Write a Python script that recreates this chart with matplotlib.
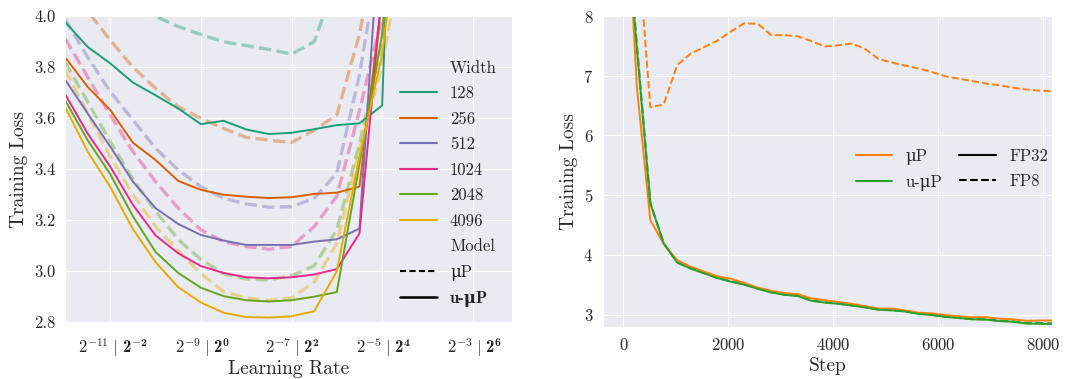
import matplotlib
matplotlib.use('Agg')
import matplotlib.pyplot as plt
import seaborn as sns
import numpy as np
from matplotlib.lines import Line2D
from matplotlib.ticker import NullLocator

sns.set_style('darkgrid')
plt.rcParams['font.family'] = ['cmr10', 'DejaVu Serif']
plt.rcParams['mathtext.fontset'] = 'cm'
plt.rcParams['axes.formatter.use_mathtext'] = True
# 'custom' math font family used only for the bold part of the LR tick labels
plt.rcParams['mathtext.rm'] = 'cmb10'
plt.rcParams['mathtext.it'] = 'cmb10'
plt.rcParams['mathtext.bf'] = 'cmb10'

# ---------------- Left panel data ----------------
log2_lr = [-12, -11.5, -11, -10.5, -10, -9.5, -9, -8.5, -8, -7.5, -7, -6.5, -6, -5.5, -5, -4.5]
widths = ['128', '256', '512', '1024', '2048', '4096']
width_colors = ['#1b9e77', '#d95f02', '#7570b3', '#e7298a', '#66a61e', '#e6ab02']

umup_128 = [3.978, 3.88, 3.815, 3.74, 3.69, 3.638, 3.577, 3.59, 3.556, 3.538, 3.543, 3.557, 3.573, 3.58, 3.65, 6.1]
umup_256 = [3.84, 3.723, 3.632, 3.504, 3.436, 3.354, 3.319, 3.30, 3.292, 3.287, 3.29, 3.303, 3.308, 3.332, 4.08, 5.5]
umup_512 = [3.752, 3.619, 3.488, 3.351, 3.247, 3.185, 3.142, 3.12, 3.103, 3.103, 3.103, 3.116, 3.125, 3.167, 4.5, 5.5]
umup_1024 = [3.695, 3.54, 3.41, 3.26, 3.14, 3.07, 3.02, 2.993, 2.976, 2.972, 2.976, 2.987, 3.008, 3.148, 4.1, 5.5]
umup_2048 = [3.671, 3.514, 3.38, 3.215, 3.075, 2.993, 2.935, 2.902, 2.886, 2.881, 2.886, 2.90, 2.918, 3.42, 3.93, 5.0]
umup_4096 = [3.645, 3.469, 3.33, 3.165, 3.035, 2.937, 2.877, 2.837, 2.82, 2.818, 2.823, 2.843, 3.0, 3.45, 3.85, 4.6]

mup_128 = [4.35, 4.22, 4.13, 4.05, 4.0, 3.96, 3.928, 3.90, 3.885, 3.87, 3.852, 3.90, 4.15, 4.6, 5.0, 5.5]
mup_256 = [4.2, 4.02, 3.906, 3.80, 3.717, 3.645, 3.60, 3.56, 3.525, 3.514, 3.505, 3.553, 3.613, 3.93, 4.4, 5.0]
mup_512 = [3.99, 3.84, 3.704, 3.593, 3.482, 3.397, 3.332, 3.286, 3.264, 3.251, 3.253, 3.286, 3.385, 3.77, 4.3, 5.0]
mup_1024 = [3.913, 3.762, 3.612, 3.469, 3.351, 3.247, 3.162, 3.116, 3.097, 3.086, 3.097, 3.175, 3.294, 3.63, 4.0, 4.6]
mup_2048 = [3.821, 3.664, 3.508, 3.36, 3.235, 3.124, 3.046, 2.99, 2.969, 2.966, 2.982, 3.021, 3.163, 3.5, 3.9, 4.4]
mup_4096 = [3.79, 3.62, 3.45, 3.30, 3.175, 3.08, 2.99, 2.92, 2.895, 2.885, 2.895, 2.957, 3.11, 3.476, 3.81, 4.3]

umup_series = [umup_128, umup_256, umup_512, umup_1024, umup_2048, umup_4096]
mup_series = [mup_128, mup_256, mup_512, mup_1024, mup_2048, mup_4096]

# tick labels: muP learning rate exponent | u-muP learning rate exponent (bold)
left_tick_exps = [-11, -9, -7, -5, -3]
left_tick_bold_exps = [-2, 0, 2, 4, 6]

# ---------------- Right panel data ----------------
steps = [0, 256, 512, 768, 1024, 1280, 1536, 1792, 2048, 2304, 2560, 2816, 3072, 3328, 3584, 3840,
         4096, 4352, 4608, 4864, 5120, 5376, 5632, 5888, 6144, 6400, 6656, 6912, 7168, 7424, 7680, 7936, 8192]
mup_fp32 = [11.0, 6.8, 4.58, 4.18, 3.91, 3.80, 3.72, 3.64, 3.60, 3.53, 3.45, 3.40, 3.36, 3.34, 3.27, 3.24,
            3.21, 3.18, 3.14, 3.10, 3.10, 3.07, 3.03, 3.02, 2.99, 2.97, 2.955, 2.955, 2.93, 2.92, 2.895, 2.90, 2.90]
umup_fp32 = [10.1, 7.45, 4.86, 4.19, 3.87, 3.77, 3.69, 3.61, 3.55, 3.50, 3.43, 3.37, 3.33, 3.31, 3.23, 3.20,
             3.18, 3.15, 3.12, 3.08, 3.07, 3.05, 3.01, 2.99, 2.96, 2.94, 2.92, 2.915, 2.89, 2.88, 2.85, 2.845, 2.84]
mup_fp8 = [11.0, 9.4, 6.47, 6.52, 7.18, 7.37, 7.48, 7.59, 7.74, 7.88, 7.87, 7.68, 7.68, 7.66, 7.58, 7.49,
           7.51, 7.54, 7.45, 7.28, 7.22, 7.17, 7.12, 7.06, 6.99, 6.95, 6.91, 6.87, 6.84, 6.80, 6.77, 6.75, 6.74]
umup_fp8 = [10.2, 7.5, 4.87, 4.19, 3.875, 3.775, 3.695, 3.615, 3.555, 3.505, 3.435, 3.375, 3.335, 3.315, 3.235, 3.205,
            3.185, 3.155, 3.125, 3.085, 3.075, 3.055, 3.015, 2.995, 2.965, 2.945, 2.925, 2.92, 2.895, 2.885, 2.855, 2.855, 2.85]

orange = '#ff7f0e'
green = '#2ca02c'
txt = '0.15'
FS = 12
LFS = 14

fig = plt.figure(figsize=(10.66, 3.79), dpi=100)
ax1 = fig.add_axes([0.061, 0.150, 0.419, 0.807])
ax2 = fig.add_axes([0.5657, 0.137, 0.4212, 0.8206])

# ----- Left -----
lr = np.power(2.0, log2_lr)
for ys, c in zip(mup_series, width_colors):
    ax1.plot(lr, ys, color=c, lw=2.4, ls='--', alpha=0.4)
for ys, c in zip(umup_series, width_colors):
    ax1.plot(lr, ys, color=c, lw=1.4)
ax1.set_xscale('log', base=2)
ax1.set_xlim(2.0 ** -12, 2.0 ** -2.14)
ax1.set_ylim(2.8, 4.0)
tick_pos = np.power(2.0, left_tick_exps)
ax1.set_xticks(tick_pos)
ax1.set_xticklabels([''] * len(tick_pos))
ax1.xaxis.set_minor_locator(NullLocator())
ax1.set_yticks([2.8, 3.0, 3.2, 3.4, 3.6, 3.8, 4.0])
ax1.set_yticklabels(['2.8', '3.0', '3.2', '3.4', '3.6', '3.8', '4.0'])
ax1.tick_params(labelsize=FS, colors=txt)
xtr = ax1.get_xaxis_transform()
for xp, e, b in zip(tick_pos, left_tick_exps, left_tick_bold_exps):
    ax1.annotate(r'$2^{%d}\;|$' % e, xy=(xp, 0), xycoords=xtr, xytext=(5.5, -22),
                 textcoords='offset points', ha='right', va='baseline', fontsize=FS,
                 color=txt, math_fontfamily='cm', annotation_clip=False)
    ax1.annotate(r'$2^{%d}$' % b, xy=(xp, 0), xycoords=xtr, xytext=(8.5, -22),
                 textcoords='offset points', ha='left', va='baseline', fontsize=FS,
                 color=txt, math_fontfamily='custom', annotation_clip=False)
ax1.set_xlabel('Learning Rate', fontsize=LFS, color=txt)
ax1.xaxis.set_label_coords(0.5, -0.125)
ax1.set_ylabel('Training Loss', fontsize=LFS, color=txt)

blank = Line2D([], [], color='none')
handles = [blank] + [Line2D([], [], color=c, lw=1.5) for c in width_colors] + [
    blank,
    Line2D([], [], color='black', lw=1.5, ls=(0, (3, 1.5))),
    Line2D([], [], color='black', lw=1.8)]
labels = ['Width'] + widths + ['Model', '\u03bcP', 'u-\u03bcP']
leg = ax1.legend(handles, labels, loc='center left', bbox_to_anchor=(0.735, 0.453),
                 frameon=False, fontsize=FS, handlelength=2.2, handletextpad=0.8,
                 labelspacing=0.61, borderaxespad=0)
for t in leg.get_texts():
    t.set_color(txt)
leg.get_texts()[-1].set_family(['cmb10', 'DejaVu Serif'])
leg.get_texts()[-1].set_fontweight('bold')

# ----- Right -----
ax2.plot(steps, mup_fp8, color=orange, lw=1.4, ls='--')
ax2.plot(steps, umup_fp8, color=green, lw=1.6, ls='--')
ax2.plot(steps, mup_fp32, color=orange, lw=1.4)
ax2.plot(steps, umup_fp32, color=green, lw=1.4)
ax2.set_xlim(-390, 8170)
ax2.set_ylim(2.79, 8.0)
ax2.set_xticks([0, 2000, 4000, 6000, 8000])
ax2.set_yticks([3, 4, 5, 6, 7, 8])
ax2.tick_params(labelsize=FS, colors=txt)
ax2.set_xlabel('Step', fontsize=LFS, color=txt, labelpad=3)
ax2.set_ylabel('Training Loss', fontsize=LFS, color=txt)

h2 = [Line2D([], [], color=orange, lw=1.5), Line2D([], [], color=green, lw=1.5),
      Line2D([], [], color='black', lw=1.5), Line2D([], [], color='black', lw=1.5, ls='--')]
l2 = ['\u03bcP', 'u-\u03bcP', 'FP32', 'FP8']
leg2 = ax2.legend(h2, l2, ncol=2, loc='center left', bbox_to_anchor=(0.548, 0.505),
                  frameon=False, fontsize=FS, handlelength=2.2, handletextpad=0.8,
                  columnspacing=1.0, labelspacing=0.6, borderaxespad=0)
for t in leg2.get_texts():
    t.set_color(txt)

fig.savefig('out.png', dpi=100)
